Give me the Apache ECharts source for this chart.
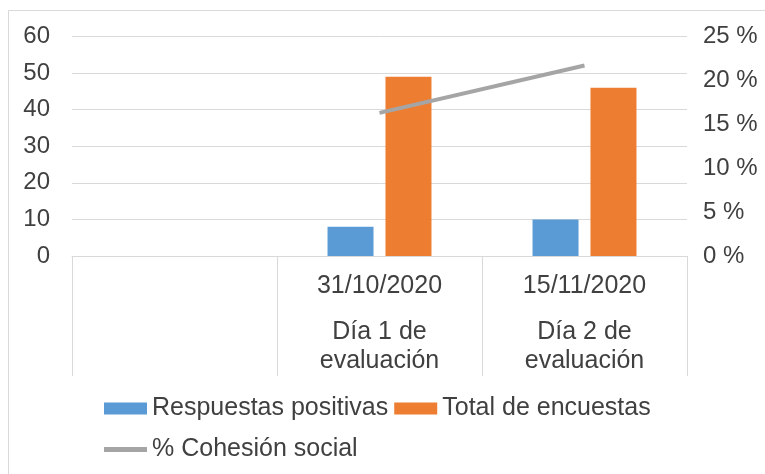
<!DOCTYPE html>
<html>
<head>
<meta charset="utf-8">
<script src="https://cdn.jsdelivr.net/npm/echarts@6/dist/echarts.min.js"></script>
<style>
  html, body { margin: 0; padding: 0; background: #fff; }
  #main { width: 765px; height: 474px; }
</style>
</head>
<body>
<div id="main"></div>
<script>
// datos del grafico
var fechas = ['', '31/10/2020', '15/11/2020'];
var dias = ['', 'Día 1 de\nevaluación', 'Día 2 de\nevaluación'];
var respuestasPositivas = ['-', 8, 10];
var totalEncuestas = ['-', 49, 46];
var cohesionSocial = ['-', 16.3, 21.7];   // en %

var categorias = fechas.map(function (f, i) { return i; });
var textColor = '#404040';
var font = 'Liberation Sans, Arial, sans-serif';

var chart = echarts.init(document.getElementById('main'));

var option = {
    backgroundColor: '#fff',
    animation: false,
    textStyle: { fontFamily: font },
    graphic: [{
        type: 'rect',
        shape: { x: 8.5, y: 10.5, width: 800, height: 500 },
        style: { fill: 'none', stroke: '#d9d9d9', lineWidth: 1 },
        silent: true
    }],
    grid: { left: 72, right: 78, top: 36.5, bottom: 218 },
    legend: {
        left: 104,
        top: 391,
        width: 600,
        padding: 0,
        itemGap: 6,
        itemWidth: 43,
        itemHeight: 12,
        textStyle: { color: textColor, fontSize: 25, lineHeight: 35, fontFamily: font },
        data: [
            { name: 'Respuestas positivas', icon: 'rect' },
            { name: 'Total de encuestas', icon: 'rect' },
            { name: '% Cohesión social', icon: 'path://M0,0L45,0L45,5L0,5Z', symbolKeepAspect: true }
        ]
    },
    xAxis: {
        type: 'category',
        data: categorias,
        axisLine: { lineStyle: { color: '#d9d9d9' } },
        axisTick: { show: true, interval: 0, length: 120, lineStyle: { color: '#d9d9d9' } },
        axisLabel: {
            interval: 0,
            margin: 16,
            formatter: function (v) {
                var i = Number(v);
                if (!fechas[i]) return '';
                var d = dias[i].split('\n');
                return '{d|' + fechas[i] + '}\n{g| }\n{e|' + d[0] + '}\n{e|' + d[1] + '}';
            },
            rich: {
                d: { fontSize: 25, lineHeight: 29, color: textColor, fontFamily: font },
                g: { fontSize: 10, lineHeight: 17 },
                e: { fontSize: 25, lineHeight: 29, color: textColor, fontFamily: font }
            }
        }
    },
    yAxis: [{
        type: 'value',
        min: 0, max: 60, interval: 10,
        axisLine: { show: false },
        axisTick: { show: false },
        splitLine: { lineStyle: { color: '#d9d9d9' } },
        axisLabel: { color: textColor, fontSize: 24, margin: 22, fontFamily: font }
    }, {
        type: 'value',
        min: 0, max: 25, interval: 5,
        axisLine: { show: false },
        axisTick: { show: false },
        splitLine: { show: false },
        axisLabel: { color: textColor, fontSize: 24, margin: 16, fontFamily: font, formatter: '{value} %' }
    }],
    series: [{
        name: 'Respuestas positivas',
        type: 'bar',
        barWidth: 46,
        barGap: '26%',
        itemStyle: { color: '#5B9BD5' },
        data: respuestasPositivas
    }, {
        name: 'Total de encuestas',
        type: 'bar',
        barWidth: 46,
        itemStyle: { color: '#ED7D31' },
        data: totalEncuestas
    }, {
        name: '% Cohesión social',
        type: 'line',
        yAxisIndex: 1,
        symbol: 'none',
        itemStyle: { color: '#A5A5A5' },
        lineStyle: { color: '#A5A5A5', width: 4 },
        data: cohesionSocial
    }]
};

chart.setOption(option);
</script>
</body>
</html>
